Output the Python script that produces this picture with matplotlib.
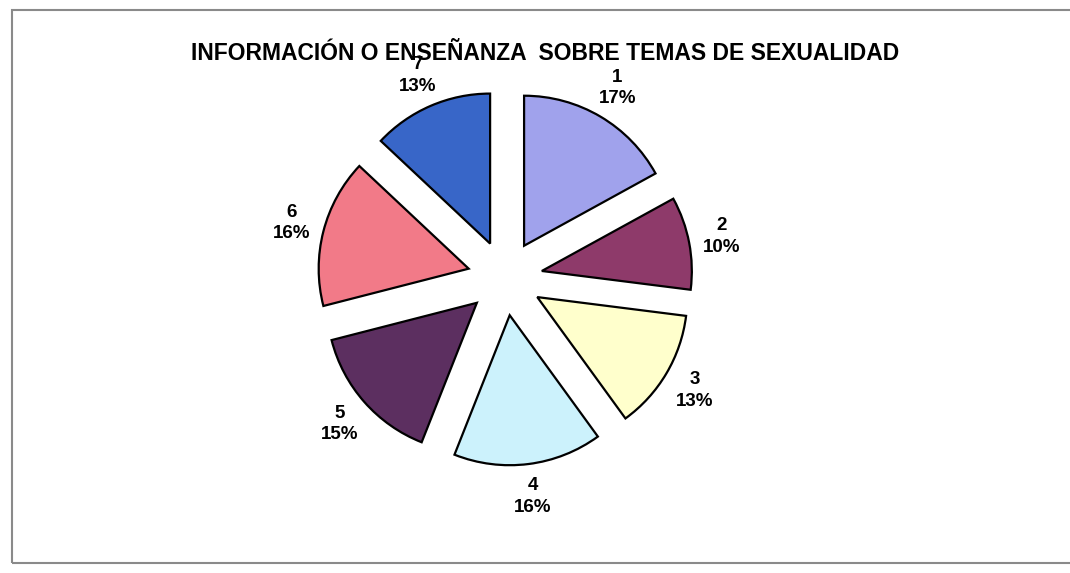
import matplotlib.pyplot as plt
from matplotlib.patches import Rectangle

# Datos del gráfico
categorias = ["1", "2", "3", "4", "5", "6", "7"]
porcentajes = [17, 10, 13, 16, 15, 16, 13]
colores = ["#A0A2EC", "#8E3A6A", "#FFFFCC", "#CCF2FC", "#5C2F60", "#F27A88", "#3866C8"]
titulo = "INFORMACIÓN O ENSEÑANZA  SOBRE TEMAS DE SEXUALIDAD"

W, H = 1070, 573
R = 150.0          # radio en pixeles
cx, cy = 505, 278  # centro en pixeles (desde arriba)

fig = plt.figure(figsize=(W / 100, H / 100), dpi=100)
plt.rcParams['font.family'] = ['Liberation Sans', 'DejaVu Sans']

# Marco gris
fig.patches.append(Rectangle((12 / W, 1 - 563 / H), 1.1, (563 - 10) / H,
                             transform=fig.transFigure, fill=False,
                             edgecolor="#8a8a8a", linewidth=1.5))

ax = fig.add_axes([0, 0, 1, 1])

etiquetas = [f"{c}\n{p}%" for c, p in zip(categorias, porcentajes)]
ax.pie(porcentajes, labels=etiquetas, colors=colores, startangle=90,
       counterclock=False, explode=[0.25] * len(porcentajes),
       labeldistance=1.22, radius=1,
       wedgeprops=dict(edgecolor="black", linewidth=1.6),
       textprops=dict(ha="center", va="center", fontsize=13.5,
                      fontweight="bold", linespacing=1.35))

# el pie cambia los limites, se fijan despues
ax.set_aspect("auto")
ax.set_xlim(-cx / R, (W - cx) / R)
ax.set_ylim(-(H - cy) / R, cy / R)
ax.set_axis_off()

fig.text(545 / W, 1 - 53 / H, titulo, ha="center", va="center",
         fontsize=16.5, fontweight="bold")

fig.savefig("out.png", dpi=100)
